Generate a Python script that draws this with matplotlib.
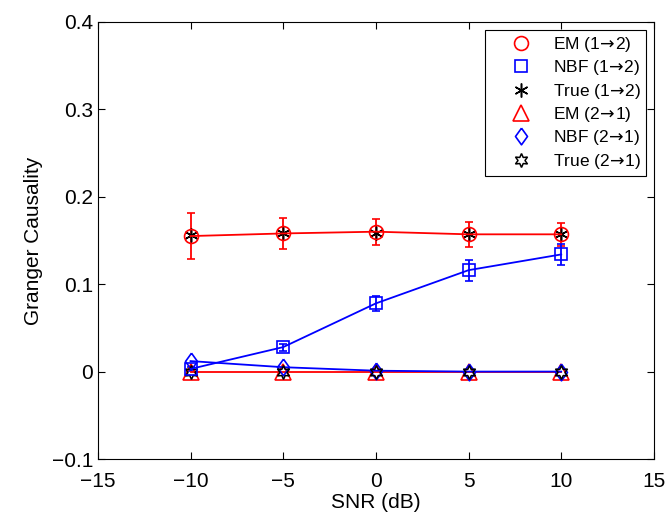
import numpy as np
import matplotlib
matplotlib.use("Agg")
import matplotlib.pyplot as plt
from matplotlib.lines import Line2D

plt.rcParams['font.family'] = ['Liberation Sans', 'DejaVu Sans']
plt.rcParams['mathtext.fontset'] = 'dejavusans'

snr = [-10, -5, 0, 5, 10]

em_12 = [0.155, 0.158, 0.160, 0.157, 0.157]
em_12_err = [0.026, 0.018, 0.015, 0.014, 0.013]
nbf_12 = [0.003, 0.028, 0.078, 0.116, 0.134]
nbf_12_err = [0.002, 0.004, 0.009, 0.012, 0.012]
true_12 = [0.156, 0.158, 0.159, 0.157, 0.157]

em_21 = [0.0, 0.0, 0.0, 0.0, 0.0]
nbf_21 = [0.012, 0.005, 0.001, 0.0, 0.0]
true_21 = [0.0, 0.0, 0.0, 0.0, 0.0]

arrow = r'$\!\rightarrow\!$'
labels = ['EM (1' + arrow + '2)', 'NBF (1' + arrow + '2)', 'True (1' + arrow + '2)',
          'EM (2' + arrow + '1)', 'NBF (2' + arrow + '1)', 'True (2' + arrow + '1)']

asterisk = (6, 2, 0)
hexagram = (6, 1, 0)
diamond = [(0, 1), (0.72, 0), (0, -1), (-0.72, 0), (0, 1)]

# marker styles shared by plot and legend
styles = [
    dict(color='red', marker='o', ms=10, mfc='none', mew=1.2),
    dict(color='blue', marker='s', ms=9, mfc='none', mew=1.2),
    dict(color='black', marker=asterisk, ms=10, mew=1.1),
    dict(color='red', marker='^', ms=11, mfc='none', mew=1.2),
    dict(color='blue', marker=diamond, ms=12, mfc='none', mew=1.2),
    dict(color='black', marker=hexagram, ms=10, mfc='none', mew=1.1),
]

fig = plt.figure(figsize=(6.7, 5.21), dpi=100)
ax = fig.add_axes([0.146, 0.119, 0.830, 0.839])

ekw = dict(capsize=3, elinewidth=1.3, capthick=1.3, linewidth=1.3)
ax.errorbar(snr, em_12, yerr=em_12_err, **styles[0], **ekw)
ax.errorbar(snr, nbf_12, yerr=nbf_12_err, **styles[1], **ekw)
ax.plot(snr, true_12, linestyle='none', **styles[2])
ax.plot(snr, em_21, lw=1.3, **styles[3])
ax.plot(snr, nbf_21, lw=1.3, **styles[4])
ax.plot(snr, true_21, linestyle='none', **styles[5])

ax.set_xlim(-15, 15)
ax.set_ylim(-0.1, 0.4)
ax.set_xticks([-15, -10, -5, 0, 5, 10, 15])
ax.set_xticklabels(['\u221215', '\u221210', '\u22125', '0', '5', '10', '15'])
ax.set_yticks([-0.1, 0, 0.1, 0.2, 0.3, 0.4])
ax.set_yticklabels(['\u22120.1', '0', '0.1', '0.2', '0.3', '0.4'])
ax.tick_params(direction='in', top=True, right=True, labelsize=15, length=5)
ax.tick_params(axis='x', pad=9)
ax.set_xlabel('SNR (dB)', fontsize=15, labelpad=2)
ax.set_ylabel('Granger Causality', fontsize=15, labelpad=6)

handles = [Line2D([], [], ls='none', **s) for s in styles]
leg = ax.legend(handles, labels, loc='upper right', fontsize=12.5,
                fancybox=False, edgecolor='black', framealpha=1,
                borderaxespad=0.46, borderpad=0.3, handletextpad=0.05,
                labelspacing=0.25, handlelength=3.55)
leg.get_frame().set_linewidth(0.8)

fig.savefig('out.png', dpi=100)
